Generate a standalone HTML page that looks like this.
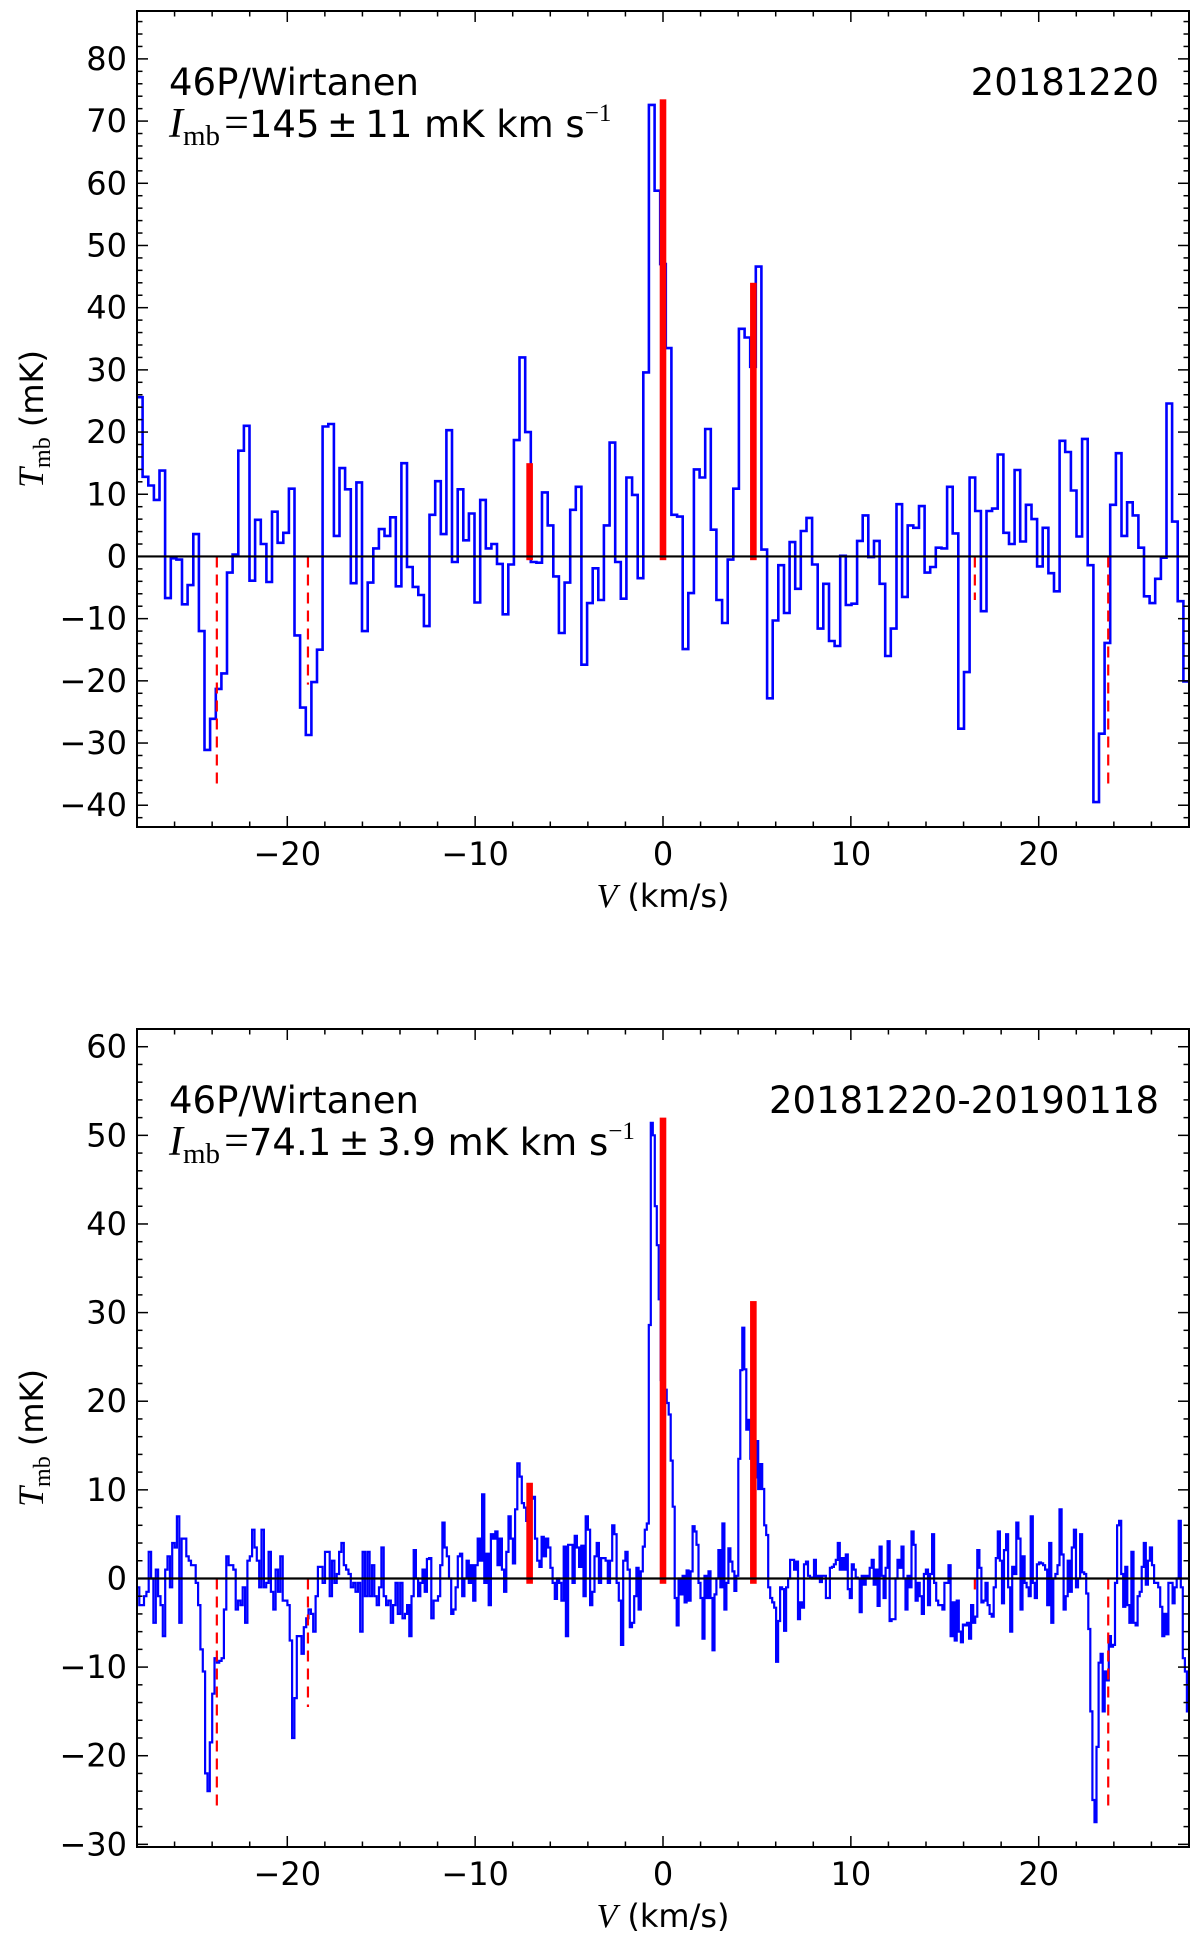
<!DOCTYPE html>
<html><head><meta charset="utf-8"><style>
html,body{margin:0;padding:0;background:#fff;}
svg{display:block;}
text{font-family:"DejaVu Sans","Liberation Sans",sans-serif;fill:#000;}
.serif{font-family:"Liberation Serif","DejaVu Serif",serif;}
</style></head><body>
<svg id="fig" width="1200" height="1934" viewBox="0 0 1200 1934" xmlns="http://www.w3.org/2000/svg"></svg>
<script>
// ---------- DATA ----------
const xDomain = [-28, 28];
const xTicks = [-20, -10, 0, 10, 20];
const topYTicks = [-40, -30, -20, -10, 0, 10, 20, 30, 40, 50, 60, 70, 80];
const botYTicks = [-30, -20, -10, 0, 10, 20, 30, 40, 50, 60];
const topYDomain = [-43.5, 87.7];
const botYDomain = [-30.3, 62];
// top spectrum (uniform channels from -28 to 28 km/s)
const topTmb = [25.6,12.8,11.4,9.1,13.8,-6.7,-0.3,-0.5,-7.7,-4.6,3.6,-12,-31.1,-26.1,-21.3,-18.8,-2.6,0.3,17,21,-3.9,5.9,2,-4.1,7.2,2.2,3.8,10.9,-12.7,-24.3,-28.7,-20.2,-15,20.9,21.3,3.3,14.2,10.8,-4.3,11.9,-12,-4.2,1.3,4.4,3.3,6.3,-4.8,15,-1.7,-4.9,-6.2,-11.2,6.7,12.1,3.6,20.3,-0.9,10.8,2.6,6.9,-7.4,9.1,1.3,
2,-1.2,-9.3,-1.3,18.7,32,20,-0.9,-1,10.3,5,-3.2,-12.3,-4.2,7.5,11.2,-17.4,-7.5,-1.9,-7,5,18.3,-0.9,-6.8,12.7,9.9,-3.5,29.6,72.6,58.8,47,33.5,6.7,6.4,-14.9,-5.9,14,12.7,20.5,4.3,-7,-10.7,-0.5,10.9,36.6,35.2,30.5,46.6,1.1,-22.8,-10.3,-1.4,-9.1,2.3,-5.2,4.1,6.2,-1.3,-11.6,-4.4,-13.6,-14.4,0.1,-7.8,
-7.6,2.5,6.6,-0.1,2.5,-4.4,-16,-11.6,8.4,-6.5,5,4.6,8.1,-2.6,-1.7,1.4,1.3,11.2,3.7,-27.7,-18.6,12.7,7.3,-8.8,7.3,7.7,16.4,3.8,2,13.9,2.4,8.3,6,-1.6,4.6,-2.7,-5.6,18.6,16.8,10.6,3.2,18.9,-1.4,-39.5,-28.5,-13.9,8.3,16.6,3.3,8.7,6.6,1.4,-6.4,-7.5,-3.6,-0.2,24.6,5.6,-7.2,-20.1];
// bottom spectrum, four velocity pieces (km/s ranges) each with uniform channels
const botPieceRanges = [[-28, -13.74], [-13.74, -1.18], [-1.18, 13.12], [13.12, 28]];
const botTmb1 = [-1,-3,-3,-2,-1.5,3,0,-5,1,-2,-3,-6.5,1,2.5,-1,4,3.5,7,-5,4.5,4.5,2.5,2,1.5,1.5,-0.5,-3,-8,-10.5,-22,-24,-18.5,-13,-9,-9.5,-9.3,-9,-3.5,2.5,1.5,1.5,1,-3.5,-2.5,-3,-1,-5,2,2.5,5.5,3.5,2,-1,5.5,-1,-0.5,3,-1.5,-3.5,1,-1.5,2.5,-2.5,-2.5,-3,-7,-18,-13.5,-6.5,-6.5,-8.5,-5.5,-4.5,-3.5,-4,-6,-2,1.3,1.3,-0.5,3,3,-2,2,-0.5,0.5,3,4,1.5,1,0.5,-1,-0.5,-1.5,-0.5,-6,3,-2,3,-2,1.5,-2,-3,-1,3.5,-2,-3,-2.5,-5,-3,-0.5,-4,-0.5,-4.5];
const botTmb2 = [-4,-3,-6.5,-2,3.2,0,-2,-0.5,1,-1.5,2.2,2.3,-4.5,-2.5,-2.5,-2,1.5,6.3,3.5,2.5,0,-4,-3.5,-1,2.5,2.8,-2,0,2,-0.5,1.5,-2.5,1.5,4.5,2,9.5,-0.5,2.8,-3,5,4.5,5.3,1.5,4.5,1,-1.5,3,7,4.5,1.7,7.8,13,11.5,8.5,8,6.5,10.5,9,9.2,4.5,2,1.3,4.7,2.5,4.5,3.5,1.2,-0.5,-2.3,0,-0.5,-2.5,3.6,-6.5,3.8,3.8,-0.5,4.8,3.5,1.3,3.7,-2,7,5.5,-3,-1.5,2.5,4,-0.5,2.3,2.3,2,-0.5,2,6,5,-0.5,-2.5,-7.5,2,3,1,-5.5,-5,-2,1.2,-3.5];
const botTmb3 = [0.8,3.6,5.5,6.2,28.6,51.4,50,42,37.6,31.5,22.4,24,21.3,19.8,18.5,13.3,8.1,-2.2,-5.3,0,-1.8,0.3,-2.7,0.9,-2.5,0.8,5.9,5.3,3.8,-0.5,-2.2,-6.8,0.3,-2.2,0.8,-2.2,-8.1,-1.8,0,3.2,-1,6.2,-3.5,-0.5,3.4,1.9,0.8,-1.4,0.3,13.5,23.5,28.3,23.6,16.8,17.9,13.5,16.3,11.4,15.5,10.1,12.9,10.1,6,4.9,-1,-2.2,-2.7,-3.3,-9.4,-4.8,-1,-1.2,-5.9,-1,0,2.1,2.1,1,1.9,-4.6,-2.7,-3.3,1.6,1.9,0.3,0.1,0,2.1,0,0.3,-0.4,0.3,0.3,-2.2,-2.2,1.2,1.3,1.6,2.1,4,1,2.3,1,2.7,-1.2,-2.2,1.6,1,0.1,0,-3.8,0.3,-0.7,0.3,0,1.2,2.1,-0.7,1,-3.1,3.6,0.3,-2.2,1.2,4.2,-4.8,-4.6,-4.6,0,2.1,1.2,3.6,0,-3.5,0.3];
const botTmb4 = [-1,5.3,3.8,-2.5,-0.5,-2,-4,0.5,1,-3,0.5,5,-0.5,-2.5,-3,-3,-3.5,-0.5,-0.5,1.5,-6.5,-2.7,-7,-2.5,-6,-7.2,-5.2,-5.3,-5,-6.8,-3,-5,-4.3,3.2,1.2,-2.7,-2.5,-0.5,-3,-4,-4.3,-1,2.3,5.3,2,-2.8,3.2,5,-1,-6,1.3,0.5,6.3,4.5,-3.5,2.5,-0.5,-1,-2,7,-0.5,-2.2,1.6,1.8,1.7,1.5,1,-3,4,-5,0,0.5,1.5,7.8,2.7,-3.5,-2,2,-1.5,3.5,5.5,-1,0,5,0.7,0.5,-1.7,-5.7,-15,-25,-27.5,-19,-9.5,-8.5,-15,-10.5,-11.5,-6.5,-7.7,-7.5,-0.5,6,6.5,0.5,-3.2,1.3,-3,-5,3,-5,-5.3,-2,-1.5,1.3,4,-0.7,2,3.5,1.5,-0.5,-0.5,-1,-3.2,-6.5,-4,-6.3,-0.5,-0.5,-2.8,-1,0,6.5,-1,-9,-10.5,-15];
// line markers (velocity, intensity)
const lineVel = [-7.1, 0, 4.81];
const topLineAmp = [15, 73.5, 44];
const botLineAmp = [10.8, 52, 31.3];
const dashVel = [-23.75, -18.9, 16.6, 23.7];
const topDashDepth = [-36.5, -20.6, -7, -36.5];
const botDashDepth = [-26, -14.5, -1.5, -26];

// ---------- DRAWING ----------
const NS = 'http://www.w3.org/2000/svg';
const svg = document.getElementById('fig');
function mk(tag, attrs, parent) {
  const e = document.createElementNS(NS, tag);
  for (const k in attrs) e.setAttribute(k, attrs[k]);
  (parent || svg).appendChild(e);
  return e;
}

function panel(opt) {
  const g = mk('g', {});
  
  
  const L = 137, R = 1189, T = opt.top, B = opt.bottom;
  const xs = v => L + (v - xDomain[0]) / (xDomain[1] - xDomain[0]) * (R - L);
  const ys = t => B - (t - opt.yDomain[0]) / (opt.yDomain[1] - opt.yDomain[0]) * (B - T);

  let d = '';
  opt.pieces.forEach(p => {
    const v0 = p.range[0], v1 = p.range[1], n = p.vals.length, w = (v1 - v0) / n;
    p.vals.forEach((t, i) => {
      const xa = xs(v0 + i * w), xb = xs(v0 + (i + 1) * w), y = ys(t);
      d += (d === '' ? 'M' : 'L') + xa.toFixed(1) + ',' + y.toFixed(1) + 'L' + xb.toFixed(1) + ',' + y.toFixed(1);
    });
  });
  const spec = mk('path', {d: d, fill: 'none', stroke: '#0000ff', 'stroke-width': opt.lw, 'stroke-linejoin': 'miter'}, g);
  
  

  lineVel.forEach((v, i) => {
    const r = mk('rect', {x: xs(v) - 3.3, y: ys(opt.amp[i]), width: 6.6, height: ys(-0.6) - ys(opt.amp[i]), fill: '#ff0000'}, g);
    
    
  });
  dashVel.forEach((v, i) => {
    const l = mk('line', {x1: xs(v), x2: xs(v), y1: ys(0), y2: ys(opt.dash[i]), stroke: '#ff0000', 'stroke-width': 2.2, 'stroke-dasharray': '11,7'}, g);
    
    
  });
  const z = mk('line', {x1: L, x2: R, y1: ys(0), y2: ys(0), stroke: '#000', 'stroke-width': 2.2}, g);
  
  

  for (let v = -28; v <= 28; v += 2) {
    const major = v % 10 === 0, len = major ? 11 : 5.5;
    mk('line', {x1: xs(v), x2: xs(v), y1: B, y2: B - len, stroke: '#000', 'stroke-width': 1.5}, g);
    mk('line', {x1: xs(v), x2: xs(v), y1: T, y2: T + len, stroke: '#000', 'stroke-width': 1.5}, g);
  }
  for (let t = Math.ceil(opt.yDomain[0] / 2) * 2; t <= opt.yDomain[1]; t += 2) {
    const major = t % 10 === 0, len = major ? 11 : 5.5;
    mk('line', {x1: L, x2: L + len, y1: ys(t), y2: ys(t), stroke: '#000', 'stroke-width': 1.5}, g);
    mk('line', {x1: R, x2: R - len, y1: ys(t), y2: ys(t), stroke: '#000', 'stroke-width': 1.5}, g);
  }
  const fr = mk('rect', {x: L, y: T, width: R - L, height: B - T, fill: 'none', stroke: '#000', 'stroke-width': 2}, g);
  
  

  xTicks.forEach(v => {
    const t = mk('text', {x: xs(v), y: B + 38, 'font-size': 32, 'text-anchor': 'middle'}, g);
    t.textContent = (v < 0 ? '\u2212' + (-v) : String(v));
    
    
  });
  opt.yTicks.forEach(v => {
    const t = mk('text', {x: L - 10, y: ys(v) + 11, 'font-size': 32, 'text-anchor': 'end'}, g);
    t.textContent = (v < 0 ? '\u2212' + (-v) : String(v));
    
    
  });

  const xt = mk('text', {x: 663, y: B + 80, 'font-size': 32, 'text-anchor': 'middle'}, g);
  
  
  xt.innerHTML = '<tspan class="serif" font-style="italic" font-size="34">V</tspan><tspan>  (km/s)</tspan>';

  const yc = (T + B) / 2;
  const yt = mk('text', {x: 0, y: 0, 'font-size': 32, 'text-anchor': 'middle', transform: 'translate(43,' + yc + ') rotate(-90)'}, g);
  
  
  yt.innerHTML = '<tspan class="serif" font-style="italic" font-size="36">T</tspan><tspan class="serif" font-size="24" dy="7">mb</tspan><tspan dy="-7"> (mK)</tspan>';

  const a1 = mk('text', {x: 169, y: T + 84, 'font-size': 37}, g);
  a1.textContent = '46P/Wirtanen';
  
  
  const a2 = mk('text', {x: 169, y: T + 126, 'font-size': 37}, g);
  
  
  a2.innerHTML = '<tspan class="serif" font-style="italic" font-size="42">I</tspan><tspan class="serif" font-size="29" dy="8">mb</tspan><tspan class="serif" font-size="44" dy="-8" dx="4">=</tspan><tspan>' + opt.intensity + ' mK km s</tspan><tspan class="serif" font-size="25" dy="-16">\u22121</tspan>';
  const a3 = mk('text', {x: 1159, y: T + 84, 'font-size': 37, 'text-anchor': 'end'}, g);
  a3.textContent = opt.date;
  
  
}

panel({name: 'top-panel', top: 11, bottom: 827, yDomain: topYDomain, yTicks: topYTicks, lw: 2.6,
  pieces: [{range: xDomain, vals: topTmb}], amp: topLineAmp, dash: topDashDepth,
  intensity: '145\u2009\u00b1\u200911', date: '20181220'});
panel({name: 'bottom-panel', top: 1029, bottom: 1847, yDomain: botYDomain, yTicks: botYTicks, lw: 2.2,
  pieces: [{range: botPieceRanges[0], vals: botTmb1}, {range: botPieceRanges[1], vals: botTmb2},
           {range: botPieceRanges[2], vals: botTmb3}, {range: botPieceRanges[3], vals: botTmb4}],
  amp: botLineAmp, dash: botDashDepth,
  intensity: '74.1\u2009\u00b1\u20093.9', date: '20181220-20190118'});
</script>
</body></html>
